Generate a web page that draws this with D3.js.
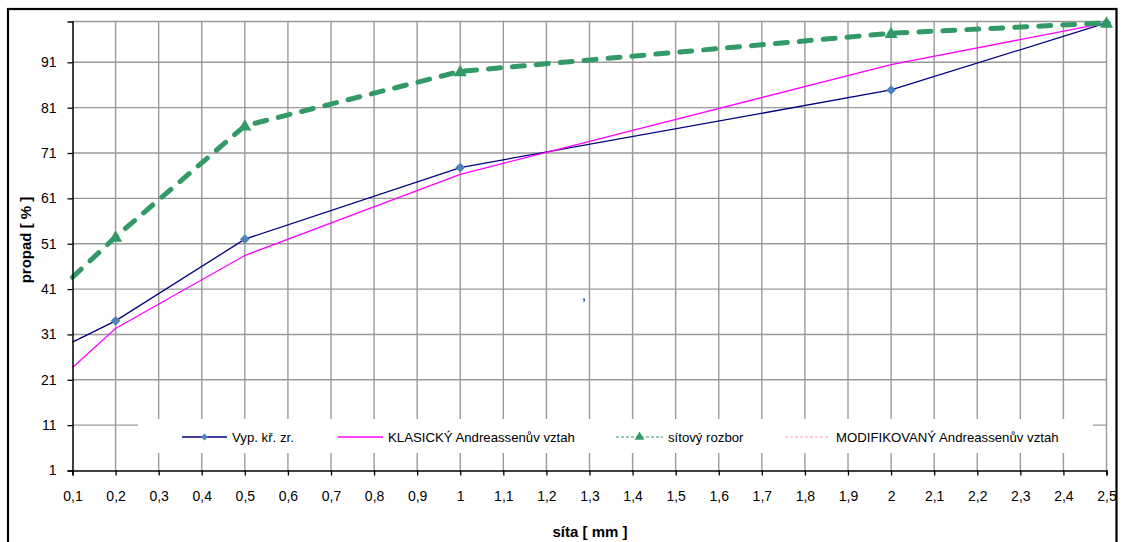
<!DOCTYPE html>
<html>
<head>
<meta charset="utf-8">
<script src="https://cdn.jsdelivr.net/npm/d3@7"></script>
<style>
  html, body { margin: 0; padding: 0; background: #fff; }
  svg { display: block; font-family: "Liberation Sans", Arial, sans-serif; }
</style>
</head>
<body>
<svg id="chart" width="1121" height="542"></svg>
<script>
// Sieve sizes [mm]; the first value sits on the left edge of the axis
const sieveSizes = [0.1, 0.2, 0.5, 1, 2, 2.5];

// Passing percentages [%]
const vypocetKrivky = [29.3, 34.0, 52.0, 67.8, 84.9, 99.7];   // Vyp. kř. zr.
const klasickyVztah = [23.7, 32.3, 48.4, 66.3, 90.5, 99.7];   // KLASICKÝ Andreassenův vztah
const sitovyRozbor  = [43.6, 52.5, 77.0, 89.0, 97.4, 99.7];   // sítový rozbor

const xTicks = d3.range(1, 26).map(i => i / 10);
const yTicks = [1, 11, 21, 31, 41, 51, 61, 71, 81, 91];

const legendLabels = [
  "Vyp. kř. zr.",
  "KLASICKÝ Andreassenův vztah",
  "sítový rozbor",
  "MODIFIKOVANÝ Andreassenův vztah"
];

const fmt = v => String(Math.round(v * 10) / 10).replace(".", ",");

const svg = d3.select("#chart");
const plotLeft = 72.5, plotRight = 1106.5, plotTop = 21.5, plotBottom = 470.5;

const x = d3.scaleLinear().domain([0.1, 2.5]).range([plotLeft, plotRight]);
const y = d3.scaleLinear().domain([1, 100]).range([plotBottom, plotTop]);

// outer chart frame
svg.append("rect")
  .attr("x", 8).attr("y", 9).attr("width", 1108.5).attr("height", 545)
  .attr("fill", "#fff").attr("stroke", "#000").attr("stroke-width", 2.2);

// gridlines
const grid = svg.append("g").attr("stroke", "#999").attr("stroke-width", 1.4);
grid.selectAll(".gx").data(xTicks.slice(1)).join("line")
  .attr("x1", d => x(d)).attr("x2", d => x(d))
  .attr("y1", plotTop).attr("y2", plotBottom);
grid.selectAll(".gy").data(yTicks.slice(1).concat([100])).join("line")
  .attr("x1", plotLeft).attr("x2", plotRight)
  .attr("y1", d => y(d)).attr("y2", d => y(d));

// series lines
const line = d3.line().x(d => x(d[0])).y(d => y(d[1]));

svg.append("path")
  .datum(d3.zip(sieveSizes, vypocetKrivky))
  .attr("d", line).attr("fill", "none")
  .attr("stroke", "#000080").attr("stroke-width", 1.3);

svg.append("path")
  .datum(d3.zip(sieveSizes, klasickyVztah))
  .attr("d", line).attr("fill", "none")
  .attr("stroke", "#ff00ff").attr("stroke-width", 1.3);

// diamond markers (points inside the axis range)
const diamond = d3.symbol().type(d3.symbolDiamond2).size(60);
svg.selectAll(".dm").data(d3.zip(sieveSizes, vypocetKrivky).slice(1)).join("path")
  .attr("d", diamond)
  .attr("transform", d => `translate(${x(d[0])},${y(d[1])})`)
  .attr("fill", "#4f81bd");

svg.append("path")
  .datum(d3.zip(sieveSizes, sitovyRozbor))
  .attr("d", line).attr("fill", "none")
  .attr("stroke", "#339966").attr("stroke-width", 5)
  .attr("stroke-dasharray", "12,12").attr("stroke-linecap", "round")
  .attr("stroke-linejoin", "round");

const tri = d3.symbol().type(d3.symbolTriangle).size(75);
svg.selectAll(".tm").data(d3.zip(sieveSizes, sitovyRozbor).slice(1)).join("path")
  .attr("d", tri)
  .attr("transform", d => `translate(${x(d[0])},${y(d[1]) + 1})`)
  .attr("fill", "#339966");

// legend box
const lg = svg.append("g");
lg.append("rect").attr("x", 138).attr("y", 419).attr("width", 955).attr("height", 34).attr("fill", "#fff");
const ly = 437;
const legendItems = [
  { x0: 182, x1: 227, tx: 232, stroke: "#000080", dash: null, w: 1.3, marker: "diamond" },
  { x0: 338, x1: 383, tx: 388, stroke: "#ff00ff", dash: null, w: 1.3, marker: null },
  { x0: 616, x1: 663, tx: 668, stroke: "#339966", dash: "3,2", w: 1.2, marker: "triangle" },
  { x0: 785, x1: 830, tx: 836, stroke: "#ff99cc", dash: "3,2", w: 1.2, marker: null }
];
legendItems.forEach((it, i) => {
  lg.append("line").attr("x1", it.x0).attr("x2", it.x1).attr("y1", ly).attr("y2", ly)
    .attr("stroke", it.stroke).attr("stroke-width", it.w)
    .attr("stroke-dasharray", it.dash);
  const cx = (it.x0 + it.x1) / 2;
  if (it.marker === "diamond") {
    lg.append("path").attr("d", d3.symbol().type(d3.symbolDiamond2).size(32))
      .attr("transform", `translate(${cx},${ly})`).attr("fill", "#4f81bd");
  } else if (it.marker === "triangle") {
    lg.append("path").attr("d", d3.symbol().type(d3.symbolTriangle).size(40))
      .attr("transform", `translate(${cx},${ly})`).attr("fill", "#339966");
  }
  lg.append("text").attr("x", it.tx).attr("y", ly + 4.5)
    .attr("font-size", 13.2).attr("fill", "#000").text(legendLabels[i]);
});

// axes
const xAxis = d3.axisBottom(x).tickValues(xTicks).tickSize(5).tickFormat(fmt);
const gx = svg.append("g").attr("transform", `translate(0,${plotBottom})`).call(xAxis);
gx.select(".domain").attr("stroke", "#000").attr("stroke-width", 1.5);
gx.selectAll(".tick line").attr("stroke", "#000").attr("stroke-width", 1.3);
gx.selectAll(".tick text").attr("font-size", 14).attr("fill", "#000")
  .attr("font-family", "Liberation Sans, Arial, sans-serif").attr("dy", "1.62em");

const yAxis = d3.axisLeft(y).tickValues(yTicks).tickSize(5).tickFormat(fmt);
const gy = svg.append("g").attr("transform", `translate(${plotLeft},0)`).call(yAxis);
gy.select(".domain").attr("stroke", "#000").attr("stroke-width", 1.5);
gy.selectAll(".tick line").attr("stroke", "#000").attr("stroke-width", 1.3);
gy.selectAll(".tick text").attr("font-size", 14).attr("fill", "#000")
  .attr("font-family", "Liberation Sans, Arial, sans-serif").attr("x", -16);

// axis titles
svg.append("text").attr("x", 590).attr("y", 537).attr("text-anchor", "middle")
  .attr("font-size", 15).attr("font-weight", "bold").text("síta [ mm ]");
svg.append("text")
  .attr("transform", "translate(31,240) rotate(-90)")
  .attr("text-anchor", "middle")
  .attr("font-size", 15).attr("font-weight", "bold").text("propad [ % ]");

// stray label inside the plot
svg.append("text").attr("x", 582).attr("y", 300).attr("font-size", 14).text(",");
</script>
</body>
</html>
